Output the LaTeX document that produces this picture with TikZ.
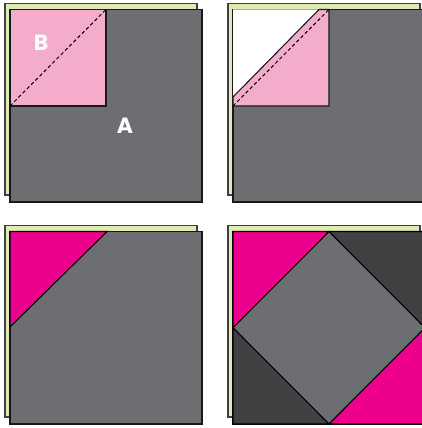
\documentclass[tikz,border=0pt]{standalone}
\usepackage{fontspec}
\newfontfamily\lblfont{Poppins}
\definecolor{backing}{HTML}{E1EAB4}
\definecolor{slate}{HTML}{6D6E71}
\definecolor{blush}{HTML}{F4ACCD}
\definecolor{hotpink}{HTML}{EC008C}
\definecolor{charcoal}{HTML}{414042}

\begin{document}
\begin{tikzpicture}[x=1pt, y=-1pt,
  backing sq/.style = {fill=backing, draw=black!75, line width=1.1pt},
  block sq/.style   = {fill=slate, draw=black!90, line width=1.2pt},
  half/.style       = {fill=blush, draw=black!90, line width=1.1pt},
  hot/.style        = {fill=hotpink, draw=black, line width=1.1pt},
  shade/.style      = {fill=charcoal, draw=black, line width=1.1pt},
  seam/.style       = {dashed, dash pattern=on 3.5pt off 2.5pt, line width=1pt},
  lbl/.style        = {text=white, font=\lblfont\bfseries\fontsize{22}{22}\selectfont},
]
  \useasboundingbox (0,0) rectangle (422,428);
  \clip (0,0) rectangle (422,428);

  % the same backing and block in every panel
  \foreach \ox/\oy in {0/0, 223/0, 0/222, 223/222} {
    \begin{scope}[shift={(\ox,\oy)}]
      \draw[backing sq] (5,3.5) rectangle (197,195);
      \draw[block sq] (10,9.5) rectangle (202,202);
    \end{scope}
  }

  % top left: small square B laid on A
  \draw[half] (10,9.5) rectangle (106,106);
  \draw[seam] (10,106) -- (106,9.5);
  \node[lbl] (b) at (41,43) {B};
  \node[lbl] (a) at (125,126) {A};

  % top right: corner folded back
  \begin{scope}[shift={(223,0)}]
    \fill[white] (10,9.5) -- (96,9.5) -- (10,97) -- cycle;
    \draw[half] (10,97) -- (96,9.5) -- (106,9.5) -- (106,106) -- (10,106) -- cycle;
    \draw[seam] (10,106) -- (106,9.5);
  \end{scope}

  % bottom left: one corner pressed open
  \begin{scope}[shift={(0,222)}]
    \draw[hot] (10,9.5) -- (107,9.5) -- (10,105) -- cycle;
  \end{scope}

  % bottom right: all four corners, square in a square
  \begin{scope}[shift={(223,222)}]
    \draw[hot]   (10,9.5) -- (106,9.5) -- (10,105.75) -- cycle;
    \draw[shade] (106,9.5) -- (202,9.5) -- (202,105.75) -- cycle;
    \draw[shade] (10,105.75) -- (106,202) -- (10,202) -- cycle;
    \draw[hot]   (202,105.75) -- (202,202) -- (106,202) -- cycle;
  \end{scope}
\end{tikzpicture}
\end{document}
